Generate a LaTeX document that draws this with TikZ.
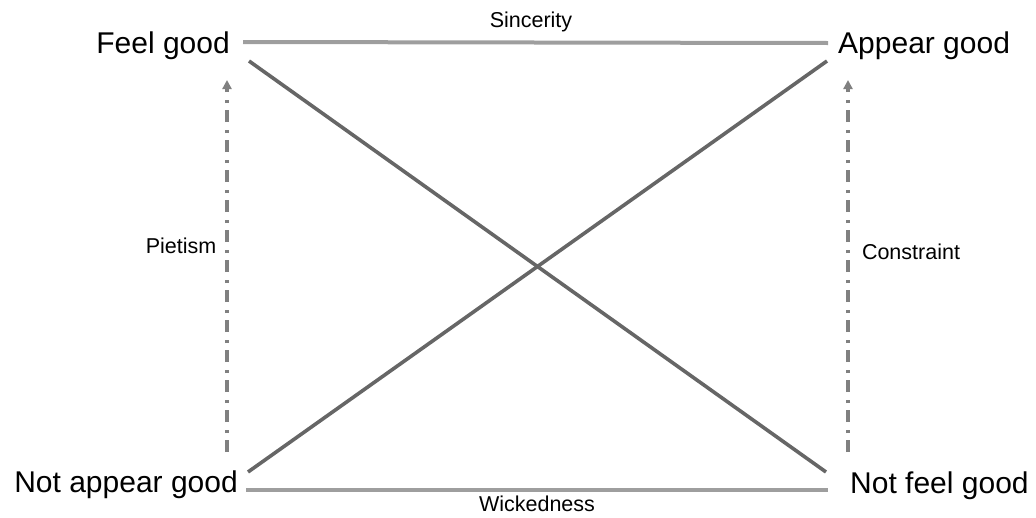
\documentclass[tikz,border=0pt]{standalone}
\usepackage{fontspec}
\setmainfont{Liberation Sans}
\usetikzlibrary{arrows.meta}
\definecolor{railgray}{gray}{0.62}
\definecolor{crossgray}{gray}{0.40}
\definecolor{dashgray}{gray}{0.50}
\tikzset{
  corner/.style={inner sep=0pt,font=\fontsize{30}{34}\selectfont},
  tag/.style={inner sep=0pt,font=\fontsize{21.5}{25}\selectfont},
  rail/.style={railgray,line width=4pt},
  cross/.style={crossgray,line width=3.6pt},
  drift/.style={dashgray,line width=4.5pt,
    dash pattern=on 12pt off 7pt on 3pt off 8pt,
    -{Triangle[width=9pt,length=9pt]}}
}
\begin{document}
\begin{tikzpicture}[x=1pt,y=-1pt]
  \useasboundingbox (0,0) rectangle (1036,517);

  % the four corners
  \node[corner,anchor=base east] (feel) at (230,53) {Feel good};
  \node[corner,anchor=base west] (appear) at (838,53) {Appear good};
  \node[corner,anchor=base east] (notappear) at (238,492) {Not appear good};
  \node[corner,anchor=base west] (notfeel) at (850,493) {Not feel good};

  % side labels
  \node[tag,anchor=base] (sincerity) at (531,27) {Sincerity};
  \node[tag,anchor=base] (wickedness) at (537,511) {Wickedness};
  \node[tag,anchor=base] (pietism) at (181,253) {Pietism};
  \node[tag,anchor=base] (constraint) at (911,259) {Constraint};

  % ends of the dash-dot arrows
  \coordinate (pietlow) at (227,452);
  \coordinate (piettop) at (227,80);
  \coordinate (conslow) at (848,452);
  \coordinate (constop) at (848,80);

  % top and bottom
  \draw[rail] ([shift={(13,-1)}]feel.base east |- 0,43)
    -- ([xshift=-10pt]appear.base west |- 0,43);
  \draw[rail] ([xshift=8pt]notappear.base east |- 0,490)
    -- ([xshift=-22pt]notfeel.base west |- 0,490);

  % the cross
  \draw[cross] ([shift={(19,8)}]feel.base east)
    -- ([shift={(-24,-21)}]notfeel.base west);
  \draw[cross] ([shift={(10,-20)}]notappear.base east)
    -- ([shift={(-11,8)}]appear.base west);

  % pietism and constraint
  \draw[drift] (pietlow) -- (piettop);
  \draw[drift] (conslow) -- (constop);
\end{tikzpicture}
\end{document}
